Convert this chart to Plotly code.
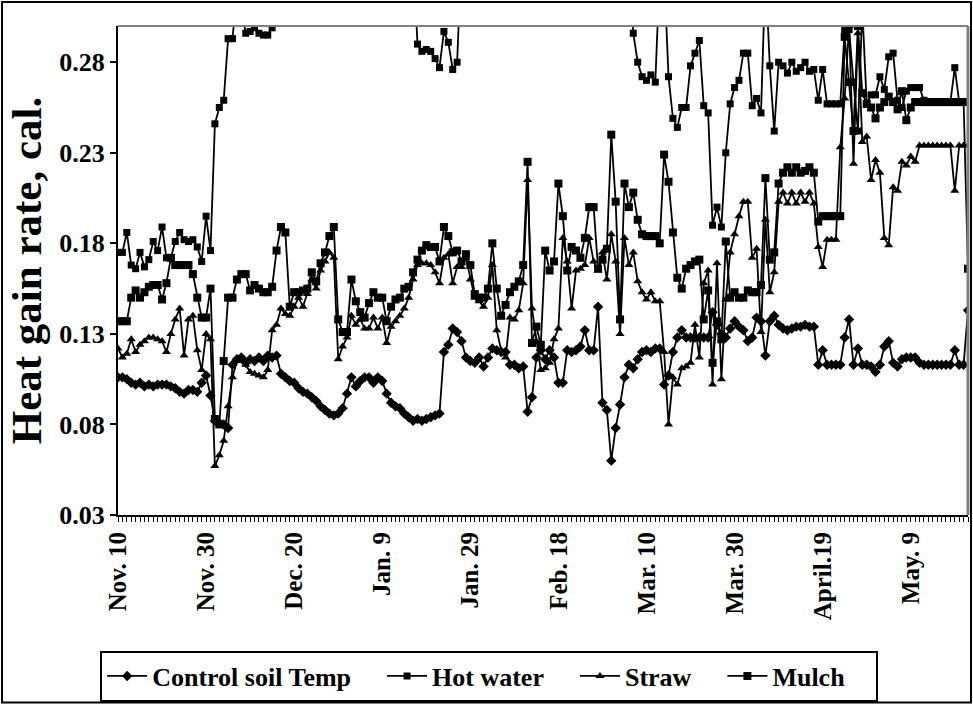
import plotly.graph_objects as go

# Day index 0 = Nov. 10 (daily readings)
tick_days = [0, 20, 40, 60, 80, 100, 120, 140, 160, 180]
tick_labels = ["Nov. 10", "Nov. 30", "Dec. 20", "Jan. 9", "Jan. 29", "Feb. 18",
               "Mar. 10", "Mar. 30", "April.19", "May. 9"]
y_ticks = [0.03, 0.08, 0.13, 0.18, 0.23, 0.28]

control = [
    0.106, 0.106, 0.105, 0.103, 0.102, 0.103, 0.101, 0.102, 0.101, 0.102,
    0.102, 0.102, 0.101, 0.100, 0.098, 0.097, 0.099, 0.099, 0.098, 0.103,
    0.107, 0.096, 0.082, 0.081, 0.080, 0.078, 0.113, 0.116, 0.117, 0.114,
    0.116, 0.115, 0.117, 0.115, 0.118, 0.117, 0.118, 0.108, 0.106, 0.104,
    0.103, 0.100, 0.098, 0.097, 0.095, 0.093, 0.090, 0.088, 0.086, 0.085,
    0.086, 0.089, 0.097, 0.106, 0.101, 0.104, 0.106, 0.106, 0.103, 0.106,
    0.104, 0.097, 0.092, 0.090, 0.089, 0.086, 0.084, 0.082, 0.083, 0.082,
    0.083, 0.084, 0.085, 0.086, 0.120, 0.124, 0.133, 0.131, 0.126, 0.117,
    0.115, 0.114, 0.117, 0.112, 0.117, 0.122, 0.121, 0.120, 0.120, 0.113,
    0.113, 0.111, 0.112, 0.087, 0.095, 0.117, 0.121, 0.116, 0.121, 0.117,
    0.103, 0.103, 0.121, 0.120, 0.121, 0.123, 0.132, 0.121, 0.121, 0.145,
    0.092, 0.088, 0.060, 0.078, 0.091, 0.106, 0.113, 0.111, 0.116, 0.120,
    0.121, 0.120, 0.122, 0.122, 0.102, 0.107, 0.120, 0.128, 0.132, 0.128,
    0.128, 0.128, 0.128, 0.128, 0.128, 0.142, 0.135, 0.130, 0.128, 0.133,
    0.137, 0.134, 0.132, 0.126, 0.128, 0.139, 0.137, 0.118, 0.137, 0.140,
    0.135, 0.133, 0.132, 0.133, 0.134, 0.134, 0.135, 0.134, 0.134, 0.113,
    0.121, 0.113, 0.113, 0.113, 0.113, 0.128, 0.138, 0.113, 0.122, 0.113,
    0.113, 0.112, 0.109, 0.113, 0.123, 0.126, 0.114, 0.112, 0.116, 0.117,
    0.117, 0.117, 0.114, 0.113, 0.113, 0.113, 0.113, 0.113, 0.113, 0.113,
    0.121, 0.113, 0.113, 0.143,
]

hot_water = [
    0.175, 0.175, 0.186, 0.168, 0.166, 0.175, 0.167, 0.171, 0.181, 0.176,
    0.189, 0.172, 0.172, 0.181, 0.186, 0.182, 0.181, 0.182, 0.178, 0.170,
    0.195, 0.176, 0.246, 0.255, 0.259, 0.293, 0.293, 0.320, 0.310, 0.296,
    0.297, 0.299, 0.296, 0.295, 0.295, 0.299, 0.330, 0.330, 0.330, 0.330,
    0.330, 0.330, 0.330, 0.330, 0.330, 0.330, 0.330, 0.330, 0.330, 0.330,
    0.330, 0.330, 0.330, 0.330, 0.330, 0.330, 0.330, 0.330, 0.330, 0.330,
    0.330, 0.330, 0.330, 0.330, 0.330, 0.330, 0.330, 0.340, 0.290, 0.286,
    0.287, 0.286, 0.282, 0.277, 0.297, 0.291, 0.276, 0.280, 0.340, 0.330,
    0.330, 0.330, 0.330, 0.330, 0.330, 0.330, 0.330, 0.330, 0.330, 0.330,
    0.330, 0.330, 0.330, 0.330, 0.330, 0.330, 0.330, 0.330, 0.330, 0.330,
    0.330, 0.330, 0.330, 0.330, 0.330, 0.330, 0.330, 0.330, 0.330, 0.330,
    0.330, 0.330, 0.330, 0.330, 0.330, 0.330, 0.340, 0.296, 0.280, 0.272,
    0.270, 0.273, 0.269, 0.330, 0.330, 0.272, 0.249, 0.244, 0.255, 0.255,
    0.278, 0.285, 0.292, 0.256, 0.252, 0.190, 0.200, 0.189, 0.230, 0.257,
    0.266, 0.270, 0.285, 0.285, 0.256, 0.260, 0.252, 0.330, 0.278, 0.242,
    0.280, 0.278, 0.274, 0.280, 0.275, 0.277, 0.280, 0.275, 0.276, 0.259,
    0.276, 0.257, 0.257, 0.257, 0.257, 0.298, 0.298, 0.269, 0.242, 0.310,
    0.257, 0.262, 0.262, 0.272, 0.265, 0.283, 0.285, 0.259, 0.255, 0.264,
    0.266, 0.266, 0.266, 0.259, 0.258, 0.258, 0.258, 0.258, 0.258, 0.258,
    0.277, 0.258, 0.258, 0.258,
]

straw = [
    0.122, 0.117, 0.119, 0.127, 0.120, 0.124, 0.126, 0.128, 0.128, 0.127,
    0.126, 0.120, 0.130, 0.138, 0.144, 0.118, 0.138, 0.140, 0.121, 0.110,
    0.130, 0.127, 0.057, 0.063, 0.071, 0.090, 0.106, 0.115, 0.117, 0.113,
    0.109, 0.108, 0.107, 0.106, 0.110, 0.132, 0.135, 0.144, 0.141, 0.140,
    0.145, 0.150, 0.145, 0.152, 0.160, 0.155, 0.165, 0.170, 0.175, 0.172,
    0.116, 0.123, 0.128, 0.140, 0.135, 0.138, 0.133, 0.133, 0.139, 0.133,
    0.139, 0.125, 0.134, 0.137, 0.140, 0.144, 0.150, 0.160, 0.168, 0.169,
    0.169, 0.168, 0.164, 0.158, 0.172, 0.174, 0.158, 0.167, 0.167, 0.172,
    0.160, 0.150, 0.148, 0.145, 0.150, 0.168, 0.132, 0.121, 0.117, 0.139,
    0.138, 0.143, 0.158, 0.215, 0.144, 0.126, 0.110, 0.111, 0.114, 0.127,
    0.133, 0.183, 0.170, 0.144, 0.165, 0.166, 0.168, 0.183, 0.170, 0.165,
    0.175, 0.160, 0.185, 0.170, 0.130, 0.183, 0.168, 0.175, 0.159, 0.153,
    0.149, 0.153, 0.148, 0.148, 0.120, 0.080, 0.106, 0.102, 0.111, 0.112,
    0.114, 0.135, 0.117, 0.158, 0.165, 0.102, 0.169, 0.105, 0.149, 0.175,
    0.185, 0.195, 0.203, 0.203, 0.172, 0.177, 0.131, 0.193, 0.153, 0.164,
    0.203, 0.208, 0.202, 0.208, 0.202, 0.208, 0.203, 0.208, 0.202, 0.178,
    0.167, 0.182, 0.182, 0.182, 0.233, 0.260, 0.300, 0.224, 0.296, 0.236,
    0.239, 0.215, 0.226, 0.219, 0.183, 0.179, 0.211, 0.209, 0.225, 0.223,
    0.228, 0.225, 0.234, 0.234, 0.234, 0.234, 0.234, 0.234, 0.234, 0.234,
    0.209, 0.234, 0.234, 0.234,
]

mulch = [
    0.137, 0.137, 0.137, 0.150, 0.154, 0.150, 0.153, 0.156, 0.157, 0.157,
    0.149, 0.158, 0.172, 0.168, 0.168, 0.168, 0.168, 0.163, 0.150, 0.139,
    0.139, 0.155, 0.083, 0.080, 0.115, 0.150, 0.150, 0.160, 0.163, 0.163,
    0.154, 0.157, 0.155, 0.153, 0.153, 0.156, 0.176, 0.189, 0.186, 0.145,
    0.153, 0.153, 0.154, 0.155, 0.164, 0.159, 0.169, 0.175, 0.184, 0.189,
    0.138, 0.131, 0.131, 0.160, 0.148, 0.142, 0.139, 0.147, 0.153, 0.150,
    0.150, 0.137, 0.145, 0.149, 0.150, 0.155, 0.156, 0.164, 0.171, 0.176,
    0.179, 0.178, 0.178, 0.170, 0.189, 0.184, 0.175, 0.176, 0.170, 0.174,
    0.168, 0.152, 0.150, 0.150, 0.155, 0.180, 0.155, 0.140, 0.146, 0.153,
    0.156, 0.159, 0.168, 0.225, 0.125, 0.134, 0.124, 0.176, 0.165, 0.170,
    0.213, 0.195, 0.165, 0.178, 0.176, 0.172, 0.183, 0.200, 0.200, 0.166,
    0.171, 0.177, 0.240, 0.203, 0.138, 0.213, 0.200, 0.208, 0.193, 0.185,
    0.184, 0.184, 0.184, 0.180, 0.229, 0.214, 0.186, 0.161, 0.155, 0.166,
    0.168, 0.170, 0.171, 0.138, 0.154, 0.114, 0.137, 0.127, 0.181, 0.150,
    0.153, 0.150, 0.150, 0.154, 0.153, 0.153, 0.157, 0.216, 0.171, 0.175,
    0.213, 0.219, 0.222, 0.219, 0.222, 0.219, 0.220, 0.222, 0.219, 0.192,
    0.195, 0.195, 0.195, 0.195, 0.195, 0.294, 0.269, 0.242, 0.300, 0.263,
    0.257, 0.255, 0.249, 0.255, 0.258, 0.261, 0.258, 0.254, 0.264, 0.248,
    0.255, 0.258, 0.258, 0.258, 0.258, 0.258, 0.258, 0.258, 0.258, 0.258,
    0.258, 0.258, 0.258, 0.166,
]

days = list(range(len(control)))

FONT = "Liberation Serif, Times New Roman, serif"
PAD = "\u00a0" * 4

fig = go.Figure()
series = [
    ("Control soil Temp", control, "diamond", 8),
    ("Hot water", hot_water, "square", 7),
    ("Straw", straw, "triangle-up", 8),
    ("Mulch", mulch, "square", 8),
]
for name, vals, sym, size in series:
    fig.add_trace(go.Scatter(
        x=days, y=vals, name=name + PAD, mode="lines+markers",
        line=dict(color="black", width=1.8),
        marker=dict(symbol=sym, size=size, color="black"),
        cliponaxis=True,
    ))

fig.update_layout(
    width=973, height=704,
    margin=dict(l=118, r=5, t=26, b=189, autoexpand=False),
    paper_bgcolor="white", plot_bgcolor="white",
    font=dict(family=FONT, color="black", weight="bold"),
    showlegend=True,
    legend=dict(
        orientation="h", x=-0.021, xanchor="left", y=-0.3815, yanchor="bottom",
        font=dict(family=FONT, size=26, color="black", weight="bold"),
        bordercolor="black", borderwidth=2, bgcolor="white",
        itemwidth=40, tracegroupgap=0,
    ),
    xaxis=dict(
        range=[0, 193], tickmode="array", tickvals=tick_days, ticktext=tick_labels,
        tickangle=-90, tickfont=dict(family=FONT, size=25, weight="bold"),
        showline=True, linecolor="black", linewidth=2,
        ticks="outside", ticklen=5, tickwidth=1, tickcolor="black",
        minor=dict(dtick=1, tick0=0, ticks="outside", ticklen=5, tickwidth=1, tickcolor="black"),
        showgrid=False, zeroline=False, mirror=False, automargin=False,
    ),
    yaxis=dict(
        range=[0.03, 0.30], tickmode="array", tickvals=y_ticks,
        ticktext=[f"{v:.2f}" for v in y_ticks],
        tickfont=dict(family=FONT, size=26, weight="bold"),
        title=dict(text="Heat gain rate, cal.", font=dict(family=FONT, size=43, weight="bold"), standoff=4),
        showline=True, linecolor="black", linewidth=2,
        ticks="outside", ticklen=6, tickwidth=1.5, tickcolor="black",
        showgrid=False, zeroline=False, automargin=False,
    ),
    shapes=[
        dict(type="line", xref="paper", yref="paper", x0=0, x1=1, y0=1, y1=1,
             line=dict(color="#808080", width=2)),
        dict(type="line", xref="paper", yref="paper", x0=1, x1=1, y0=0, y1=1,
             line=dict(color="#808080", width=3)),
        dict(type="rect", xref="paper", yref="paper",
             x0=(2 - 118) / 850, x1=(971 - 118) / 850,
             y0=(515 - 702.5) / 489, y1=(515 - 2) / 489,
             line=dict(color="black", width=2)),
    ],
)

fig.write_html("out.html")
